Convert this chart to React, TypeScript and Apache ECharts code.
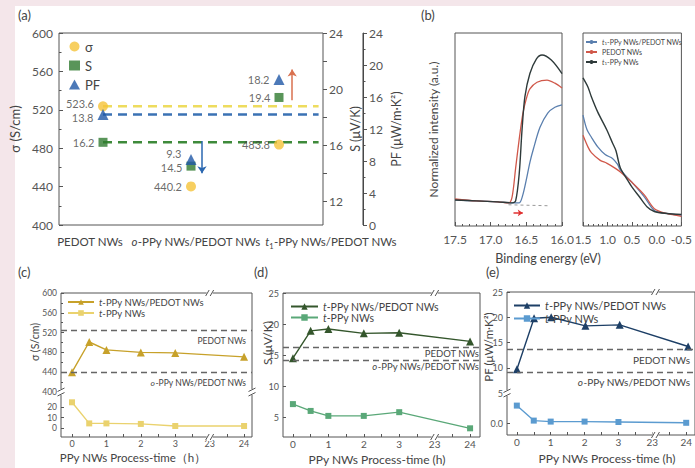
import React, { useEffect, useRef } from "react";
import * as echarts from "echarts";

const FONT = "Lato, 'Noto Sans', sans-serif";
const AX = "#555";
const TXT = "#444";

// ---------- panel (a) ----------
const aCategories = ["PEDOT NWs", "{i|o}-PPy NWs/PEDOT NWs", "{i|t}{s|1}-PPy NWs/PEDOT NWs"];
const aSigma = [523.6, 440.2, 483.8];
const aSigmaLabels = ["523.6", "440.2", "483.8"];
const aSeebeck = [16.2, 14.5, 19.4];
const aSeebeckLabels = ["16.2", "14.5", "19.4"];
const aPF = [13.8, 8.2, 18.2];
const aPFLabels = ["13.8", "9.3", "18.2"];
const aSTickLabels = [12, 16, 20, 24];
const aSTicks = [12, 14, 16, 18, 20, 22, 24];

// ---------- panel (b) ----------
const bLeftDark = [[17.5, 0.135], [17.2, 0.13], [16.9, 0.125], [16.7, 0.12], [16.65, 0.13], [16.6, 0.27], [16.56, 0.5], [16.52, 0.67], [16.45, 0.79], [16.36, 0.865], [16.28, 0.886], [16.15, 0.86], [16.0, 0.79]];
const bLeftRed = [[17.5, 0.14], [17.2, 0.13], [16.9, 0.125], [16.75, 0.12], [16.7, 0.15], [16.65, 0.3], [16.6, 0.45], [16.55, 0.58], [16.5, 0.66], [16.45, 0.71], [16.35, 0.745], [16.21, 0.756], [16.1, 0.74], [16.0, 0.715]];
const bLeftBlue = [[17.5, 0.135], [17.2, 0.13], [16.9, 0.125], [16.7, 0.12], [16.6, 0.12], [16.55, 0.16], [16.5, 0.24], [16.45, 0.33], [16.4, 0.4], [16.31, 0.51], [16.2, 0.585], [16.1, 0.615], [16.0, 0.627]];
const bRightDark = [[1.5, 0.767], [1.4, 0.72], [1.33, 0.67], [1.2, 0.59], [1.02, 0.5], [0.9, 0.43], [0.83, 0.39], [0.74, 0.3], [0.6, 0.24], [0.5, 0.2], [0.35, 0.15], [0.2, 0.1], [0.05, 0.075], [-0.2, 0.065], [-0.5, 0.06]];
const bRightBlue = [[1.5, 0.575], [1.42, 0.5], [1.33, 0.46], [1.2, 0.41], [1.05, 0.37], [0.9, 0.35], [0.8, 0.32], [0.74, 0.29], [0.5, 0.225], [0.25, 0.15], [0.05, 0.08], [-0.2, 0.065], [-0.5, 0.055]];
const bRightRed = [[1.5, 0.47], [1.4, 0.41], [1.33, 0.38], [1.15, 0.34], [1.02, 0.326], [0.85, 0.3], [0.74, 0.28], [0.5, 0.225], [0.25, 0.16], [0.05, 0.09], [-0.2, 0.065], [-0.5, 0.05]];
const bBaseline = [[16.75, 0.11], [16.2, 0.105]];
const bShift = [[16.68, 0.068], [16.55, 0.068]];

// ---------- panels (c)-(e) ----------
const hours = [0, 0.5, 1, 2, 3, 24];
const hourTickLabels = ["0", "1", "2", "3", "23", "24"];
const cComposite = [440, 501, 485, 480, 479, 471];
const cPPy = [25, 4.5, 4.5, 4, 2, 2];
const cRefs = [525, 440];
const dComposite = [14.5, 18.9, 19.2, 18.5, 18.6, 17.2];
const dPPy = [7.1, 6.0, 5.2, 5.2, 5.8, 3.2];
const dRefs = [16.3, 14.2];
const eComposite = [9.7, 19.8, 20.0, 18.3, 18.5, 14.2];
const ePPy = [0.087, 0.012, 0.007, 0.007, 0.005, 0.001];
const eRefs = [13.6, 9.1];
const refLabels = ["PEDOT NWs", "{i|o}-PPy NWs/PEDOT NWs"];

const LEGEND_TEXT: Record<string, string> = {
  "σ": "σ", S: "S", PF: "PF",
  bBlue: "{i|t}{s|1}-PPy NWs/PEDOT NWs", bRed: "PEDOT NWs", bDark: "{i|t}{s|1}-PPy NWs",
  c1: "{i|t}-PPy NWs/PEDOT NWs", c2: "{i|t}-PPy NWs",
  d1: "{i|t}-PPy NWs/PEDOT NWs", d2: "{i|t}-PPy NWs",
  e1: "{i|t}-PPy NWs/PEDOT NWs", e2: "{i|t}-PPy NWs",
};

const C = {
  yel: "#f5c338", yelDash: "#eedc5e", grn: "#2f7a30", grnDash: "#3e8a3a", blu: "#1f58a6", bluDash: "#3b72b4",
  arrowBlue: "#2a67b0", arrowRed: "#d9714f",
  bDark: "#2e3a3a", bRed: "#d0584a", bBlue: "#5a7fae",
  cDark: "#c7a12a", cLight: "#ead26e", dDark: "#34562c", dLight: "#5aa878", eDark: "#1d3f66", eLight: "#5b9bd0",
};

const G = {
  a: { left: 59, top: 33, width: 264, height: 192 },
  b1: { left: 455, top: 33, width: 107, height: 193 },
  b2: { left: 583, top: 33, width: 107, height: 193 },
  c: { left: 61, top: 293, width: 191, height: 144, split: 392, xmin: -0.32, xmax: 5.23 },
  d: { left: 283, top: 293, width: 197, height: 144, xmin: -0.28, xmax: 5.28 },
  e: { left: 507, top: 292, width: 190, height: 143, split: 393, xmin: -0.29, xmax: 5.2 },
};
const PF_OFFSET = 40;

function hourPos(h: number) {
  return h <= 3 ? h : 4 + (h - 23);
}
function pairs(xs: number[], ys: number[]) {
  return xs.map((h, i) => [hourPos(h), ys[i]]);
}
function xPix(g: { left: number; width: number; xmin: number; xmax: number }, v: number) {
  return g.left + ((v - g.xmin) / (g.xmax - g.xmin)) * g.width;
}

const frame = (g: any) => ({ left: g.left, top: g.top, width: g.width, height: g.height, show: true, borderColor: AX, borderWidth: 1, backgroundColor: "transparent" });

const halfTicks = [0, 0.5, 1, 1.5, 2, 2.5, 3, 3.5, 4, 4.5, 5];

function timeX(gridIndex: number, g: any, show: boolean, fontSize: number) {
  return {
    type: "value", gridIndex, min: g.xmin, max: g.xmax,
    axisLine: { show: false, onZero: false }, splitLine: { show: false },
    axisTick: show ? { show: true, inside: true, length: 3, customValues: halfTicks, lineStyle: { color: AX } } : { show: false },
    axisLabel: show ? { show: true, customValues: [0, 1, 2, 3, 4, 5], formatter: (v: number) => hourTickLabels[Math.round(v)], color: AX, fontSize, margin: 2, fontFamily: FONT } : { show: false },
  };
}
function yVal(gridIndex: number, o: any, fontSize: number) {
  return {
    type: "value", gridIndex, axisLine: { show: false, onZero: false }, splitLine: { show: false },
    axisTick: { show: true, inside: true, length: 3, lineStyle: { color: AX }, ...(o.ticks ? { customValues: o.ticks } : {}) },
    minorTick: o.minor ? { show: true, splitNumber: 2, length: 2, lineStyle: { color: AX } } : { show: false },
    axisLabel: { color: AX, fontSize, margin: 4, fontFamily: FONT, ...(o.labels ? { customValues: o.labels } : {}), ...(o.formatter ? { formatter: o.formatter } : {}) },
    min: o.min, max: o.max, ...(o.interval ? { interval: o.interval } : {}),
  };
}
function hidden(gridIndex: number, min = 0, max = 1) {
  return { type: "value", gridIndex, min, max, show: false, splitLine: { show: false } };
}

function breakH(x: number, y: number) {
  return {
    type: "group", x, y, z: 50, children: [
      { type: "rect", shape: { x: -3, y: -4, width: 6, height: 8 }, style: { fill: "#fff" }, z: 50 },
      { type: "line", shape: { x1: -4, y1: 3, x2: -0.5, y2: -3 }, style: { stroke: AX, lineWidth: 1 }, z: 51 },
      { type: "line", shape: { x1: 0.5, y1: 3, x2: 4, y2: -3 }, style: { stroke: AX, lineWidth: 1 }, z: 51 },
    ],
  };
}
function breakV(x: number, y: number) {
  return {
    type: "group", x, y, z: 50, children: [
      { type: "rect", shape: { x: -4, y: -3, width: 8, height: 6 }, style: { fill: "#fff" }, z: 50 },
      { type: "line", shape: { x1: -3.5, y1: -0.5, x2: 3.5, y2: -4 }, style: { stroke: AX, lineWidth: 1 }, z: 51 },
      { type: "line", shape: { x1: -3.5, y1: 4, x2: 3.5, y2: 0.5 }, style: { stroke: AX, lineWidth: 1 }, z: 51 },
    ],
  };
}

function txt(text: string, x: number, y: number, fontSize: number, opts: any = {}) {
  return {
    type: "text", x, y, z: 60, rotation: opts.rotation || 0,
    style: {
      text, fill: opts.fill || TXT, fontSize, fontFamily: FONT,
      textAlign: opts.align || "center", textVerticalAlign: "middle",
      rich: {
        i: { fontStyle: "italic", fontSize, fontFamily: FONT, fill: opts.fill || TXT },
        s: { fontSize: fontSize * 0.65, fontFamily: FONT, fill: opts.fill || TXT, verticalAlign: "bottom", padding: [0, 0, -3, 0] },
      },
    },
  };
}

function richFor(fs: number) {
  return {
    i: { fontStyle: "italic", fontSize: fs, fontFamily: FONT, color: TXT },
    s: { fontSize: fs * 0.65, fontFamily: FONT, color: TXT, verticalAlign: "bottom" },
  };
}

function legend(data: string[], left: number, top: number, fs: number, o: any = {}) {
  return {
    data, orient: "vertical", left, top, itemGap: o.gap ?? 2, itemWidth: o.w ?? 25, itemHeight: o.h ?? 8,
    padding: 0, selectedMode: false, formatter: (n: string) => LEGEND_TEXT[n] ?? n,
    textStyle: { fontSize: fs, color: TXT, fontFamily: FONT, lineHeight: o.lh ?? fs, padding: [0, 0, 0, 0], rich: richFor(fs) },
  };
}

function refMarkLine(refs: number[], fs: number, dist: number) {
  return {
    silent: true, symbol: ["none", "none"],
    lineStyle: { type: [6, 4], color: "#666", width: 1.4 },
    label: { show: true, position: "insideEndBottom", color: TXT, fontSize: fs, fontFamily: FONT, distance: dist, rich: richFor(fs) },
    data: refs.map((v, i) => ({ yAxis: v, label: { formatter: refLabels[i] } })),
  };
}

function buildOption() {
  const pfX = G.a.left + G.a.width + PF_OFFSET;
  const graphic: any[] = [
    { type: "rect", shape: { x: 15, y: 6, width: 690, height: 470 }, style: { fill: "#ffffff" }, z: -100 },
    { type: "rect", shape: { x: pfX - 0.5, y: G.a.top, width: 1.2, height: G.a.height }, style: { fill: "#444" }, z: 40 },
    txt("(a)", 18, 15, 13, { align: "left" }),
    txt("(b)", 421, 15, 13, { align: "left" }),
    txt("(c)", 18, 272, 13, { align: "left" }),
    txt("(d)", 254, 272, 13, { align: "left" }),
    txt("(e)", 486, 272, 13, { align: "left" }),
    txt(aCategories[0], 90, 241, 11.5),
    txt(aCategories[1], 196, 241, 11.5),
    txt(aCategories[2], 331, 241, 11.5),
    txt("Binding energy (eV)", 548, 258, 12.5),
    txt("σ (S/cm)", 35, 342, 10.5, { rotation: Math.PI / 2 }),
    txt("S (μV/K)", 267, 343, 12, { rotation: Math.PI / 2 }),
    txt("PF (μW/m·K²)", 488, 347, 11.5, { rotation: Math.PI / 2 }),
    txt("PPy NWs Process-time（h）", 133, 457, 11.5),
    txt("PPy NWs Process-time (h)", 377, 459, 12),
    txt("PPy NWs Process-time (h)", 607, 458, 12),
    // axis breaks
    breakH(xPix(G.c, 4), G.c.top), breakH(xPix(G.c, 4), G.c.top + G.c.height),
    breakV(G.c.left, G.c.split), breakV(G.c.left + G.c.width, G.c.split),
    breakH(xPix(G.d, 4), G.d.top), breakH(xPix(G.d, 4), G.d.top + G.d.height),
    breakH(xPix(G.e, 4), G.e.top), breakH(xPix(G.e, 4), G.e.top + G.e.height),
    breakV(G.e.left, G.e.split),
  ];

  const grid = [
    frame(G.a), frame(G.b1), frame(G.b2),
    frame(G.c),
    { left: G.c.left, top: G.c.top, width: G.c.width, height: G.c.split - G.c.top },
    { left: G.c.left, top: G.c.split, width: G.c.width, height: G.c.top + G.c.height - G.c.split },
    frame(G.d),
    frame(G.e),
    { left: G.e.left, top: G.e.top, width: G.e.width, height: G.e.split - G.e.top },
    { left: G.e.left, top: G.e.split, width: G.e.width, height: G.e.top + G.e.height - G.e.split },
  ];

  const xAxis = [
    { type: "value", gridIndex: 0, min: -0.5, max: 2.5, show: false, splitLine: { show: false } },
    {
      type: "value", gridIndex: 1, min: 16, max: 17.5, interval: 0.5, inverse: true,
      axisLine: { show: false, onZero: false }, splitLine: { show: false },
      axisTick: { inside: true, length: 4, lineStyle: { color: AX } },
      minorTick: { show: true, splitNumber: 5, length: 2, lineStyle: { color: AX } },
      axisLabel: { color: AX, fontSize: 12, margin: 7, fontFamily: FONT, formatter: (v: number) => v.toFixed(1) },
    },
    {
      type: "value", gridIndex: 2, min: -0.5, max: 1.5, interval: 0.5, inverse: true,
      axisLine: { show: false, onZero: false }, splitLine: { show: false },
      axisTick: { inside: true, length: 4, lineStyle: { color: AX } },
      minorTick: { show: true, splitNumber: 5, length: 2, lineStyle: { color: AX } },
      axisLabel: { color: AX, fontSize: 12, margin: 7, fontFamily: FONT, formatter: (v: number) => v.toFixed(1) },
    },
    hidden(3), timeX(4, G.c, false, 9), timeX(5, G.c, true, 9),
    timeX(6, G.d, true, 10),
    hidden(7), timeX(8, G.e, false, 10), timeX(9, G.e, true, 10),
  ];

  const yAxis = [
    {
      type: "value", gridIndex: 0, position: "left", min: 400, max: 600, interval: 40,
      axisLine: { show: false, onZero: false }, splitLine: { show: false },
      axisTick: { inside: true, length: 4, lineStyle: { color: AX } },
      minorTick: { show: true, splitNumber: 2, length: 2.5, lineStyle: { color: AX } },
      axisLabel: { color: AX, fontSize: 12, margin: 6, fontFamily: FONT },
      name: "σ (S/cm)", nameLocation: "middle", nameGap: 38, nameRotate: 90,
      nameTextStyle: { fontSize: 13, color: TXT, fontFamily: FONT },
    },
    {
      type: "value", gridIndex: 0, position: "right", min: 10.3, max: 24,
      axisLine: { show: false, onZero: false }, splitLine: { show: false },
      axisTick: { inside: false, length: 4, customValues: aSTicks, lineStyle: { color: AX } },
      axisLabel: { customValues: aSTickLabels, color: AX, fontSize: 12, margin: 6, fontFamily: FONT },
      name: "S (μV/K)", nameLocation: "middle", nameGap: 26, nameRotate: 90,
      nameTextStyle: { fontSize: 12.5, color: TXT, fontFamily: FONT },
    },
    {
      type: "value", gridIndex: 0, position: "right", offset: PF_OFFSET, min: 0, max: 24, interval: 4,
      axisLine: { show: true, onZero: false, lineStyle: { color: AX, width: 1 } }, splitLine: { show: false },
      axisTick: { show: true, inside: false, length: 4, lineStyle: { color: AX } },
      minorTick: { show: true, splitNumber: 2, length: 2.5, lineStyle: { color: AX } },
      axisLabel: { color: AX, fontSize: 12, margin: 6, fontFamily: FONT },
      name: "PF (μW/m·K²)", nameLocation: "middle", nameGap: 27, nameRotate: 90,
      nameTextStyle: { fontSize: 12.5, color: TXT, fontFamily: FONT },
    },
    {
      type: "value", gridIndex: 1, min: 0, max: 1, axisLine: { show: false, onZero: false }, axisTick: { show: false },
      axisLabel: { show: false }, splitLine: { show: false },
      name: "Normalized intensity (a.u.)", nameLocation: "middle", nameGap: 16, nameRotate: 90,
      nameTextStyle: { fontSize: 12, color: TXT, fontFamily: FONT },
    },
    hidden(2),
    hidden(3),
    yVal(4, { min: 400, max: 600, interval: 40, minor: true }, 8.5),
    yVal(5, { min: -8.7, max: 35, ticks: [0, 10, 20], labels: [0, 10, 20] }, 8.5),
    yVal(6, { min: 1.8, max: 25, ticks: [5, 10, 15, 20, 25], labels: [5, 10, 15, 20, 25] }, 9),
    hidden(7),
    yVal(8, { min: 5, max: 25, interval: 5 }, 9),
    yVal(9, { min: -0.06, max: 0.15, ticks: [0], labels: [0], formatter: () => "0.0" }, 9),
  ];

  const lbl = (arr: string[]) => ({
    show: true, position: "left", distance: 4, color: TXT, fontSize: 11, fontFamily: FONT,
    formatter: (p: any) => arr[p.dataIndex],
  });
  const idx = [0, 1, 2];
  const refEnd = 2.45;
  const sigOffsets = [[0, -3], [0, 0], [0, 0]];
  const sOffsets = [[0, 0], [0, 1], [0, 0]];
  const pfOffsets = [[0, 3], [0, -6], [0, 0]];

  const series: any[] = [
    // panel (a) dashed reference lines
    { type: "line", name: "aSigRef", xAxisIndex: 0, yAxisIndex: 0, data: [[0, aSigma[0]], [refEnd, aSigma[0]]], symbol: "none", lineStyle: { color: C.yelDash, width: 2.5, type: [9, 6] }, z: 1, silent: true },
    { type: "line", name: "aPFRef", xAxisIndex: 0, yAxisIndex: 2, data: [[0, aPF[0]], [refEnd, aPF[0]]], symbol: "none", lineStyle: { color: C.bluDash, width: 2.5, type: [9, 6] }, z: 1, silent: true },
    {
      type: "line", name: "aSRef", xAxisIndex: 0, yAxisIndex: 1, data: [[0, aSeebeck[0]], [refEnd, aSeebeck[0]]], symbol: "none", lineStyle: { color: C.grnDash, width: 2.5, type: [9, 6] }, z: 1, silent: true,
      markLine: {
        silent: true, symbol: ["none", "arrow"], symbolSize: 7, label: { show: false },
        data: [
          [{ coord: [1.125, 16.3], lineStyle: { color: C.arrowBlue, width: 1.5, type: "solid" } }, { coord: [1.125, 14.0] }],
          [{ coord: [2.15, 19.2], lineStyle: { color: C.arrowRed, width: 1.5, type: "solid" } }, { coord: [2.15, 21.4] }],
        ],
      },
    },
    { type: "scatter", name: "σ", xAxisIndex: 0, yAxisIndex: 0, data: idx.map((i) => ({ value: [i, aSigma[i]], label: { offset: sigOffsets[i] } })), symbol: "circle", symbolSize: 10, itemStyle: { color: C.yel }, label: lbl(aSigmaLabels), z: 3 },
    { type: "scatter", name: "S", xAxisIndex: 0, yAxisIndex: 1, data: idx.map((i) => ({ value: [i, aSeebeck[i]], label: { offset: sOffsets[i] } })), symbol: "rect", symbolSize: 9, itemStyle: { color: C.grn }, label: lbl(aSeebeckLabels), z: 3 },
    { type: "scatter", name: "PF", xAxisIndex: 0, yAxisIndex: 2, data: idx.map((i) => ({ value: [i, aPF[i]], label: { offset: pfOffsets[i] } })), symbol: "triangle", symbolSize: 11, itemStyle: { color: C.blu }, label: lbl(aPFLabels), z: 3 },

    // panel (b)
    { type: "line", name: "bBlueL", xAxisIndex: 1, yAxisIndex: 3, data: bLeftBlue, symbol: "none", smooth: 0.3, lineStyle: { color: C.bBlue, width: 1.3 } },
    { type: "line", name: "bRedL", xAxisIndex: 1, yAxisIndex: 3, data: bLeftRed, symbol: "none", smooth: 0.3, lineStyle: { color: C.bRed, width: 1.3 } },
    { type: "line", name: "bDarkL", xAxisIndex: 1, yAxisIndex: 3, data: bLeftDark, symbol: "none", smooth: 0.3, lineStyle: { color: C.bDark, width: 1.4 } },
    {
      type: "line", name: "bBase", xAxisIndex: 1, yAxisIndex: 3, data: bBaseline, symbol: "none", lineStyle: { color: "#999", width: 1, type: [3, 3] }, silent: true,
      markLine: {
        silent: true, symbol: ["none", "arrow"], symbolSize: 5, label: { show: false },
        data: [[{ coord: bShift[0], lineStyle: { color: "#e03030", width: 1.5, type: "solid" } }, { coord: bShift[1] }]],
      },
    },
    { type: "line", name: "bBlue", xAxisIndex: 2, yAxisIndex: 4, data: bRightBlue, symbol: "none", smooth: 0.3, lineStyle: { color: C.bBlue, width: 1.3 }, itemStyle: { color: C.bBlue } },
    { type: "line", name: "bRed", xAxisIndex: 2, yAxisIndex: 4, data: bRightRed, symbol: "none", smooth: 0.3, lineStyle: { color: C.bRed, width: 1.3 }, itemStyle: { color: C.bRed } },
    { type: "line", name: "bDark", xAxisIndex: 2, yAxisIndex: 4, data: bRightDark, symbol: "none", smooth: 0.3, lineStyle: { color: C.bDark, width: 1.4 }, itemStyle: { color: C.bDark } },

    // panel (c)
    { type: "line", name: "c1", xAxisIndex: 4, yAxisIndex: 6, data: pairs(hours, cComposite), symbol: "triangle", symbolSize: 8, lineStyle: { color: C.cDark, width: 1.4 }, itemStyle: { color: C.cDark }, markLine: refMarkLine(cRefs, 8.5, 6) },
    { type: "line", name: "c2", xAxisIndex: 5, yAxisIndex: 7, data: pairs(hours, cPPy), symbol: "rect", symbolSize: 6, lineStyle: { color: C.cLight, width: 1.4 }, itemStyle: { color: C.cLight } },
    // panel (d)
    { type: "line", name: "d1", xAxisIndex: 6, yAxisIndex: 8, data: pairs(hours, dComposite), symbol: "triangle", symbolSize: 8, lineStyle: { color: C.dDark, width: 1.4 }, itemStyle: { color: C.dDark }, markLine: refMarkLine(dRefs, 9.5, 1) },
    { type: "line", name: "d2", xAxisIndex: 6, yAxisIndex: 8, data: pairs(hours, dPPy), symbol: "rect", symbolSize: 6, lineStyle: { color: C.dLight, width: 1.4 }, itemStyle: { color: C.dLight } },
    // panel (e)
    { type: "line", name: "e1", xAxisIndex: 8, yAxisIndex: 10, data: pairs(hours, eComposite), symbol: "triangle", symbolSize: 8, lineStyle: { color: C.eDark, width: 1.4 }, itemStyle: { color: C.eDark }, markLine: refMarkLine(eRefs, 10, 5) },
    { type: "line", name: "e2", xAxisIndex: 9, yAxisIndex: 11, data: pairs(hours, ePPy), symbol: "rect", symbolSize: 6, lineStyle: { color: C.eLight, width: 1.4 }, itemStyle: { color: C.eLight } },
  ];

  return {
    animation: false,
    backgroundColor: "#f4e6ea",
    textStyle: { fontFamily: FONT },
    grid, xAxis, yAxis, series, graphic,
    legend: [
      legend(["σ", "S", "PF"], 69, 40, 13, { w: 11, h: 10, gap: 6, lh: 13 }),
      legend(["bBlue", "bRed", "bDark"], 585, 38, 7, { w: 11, h: 5, gap: 2, lh: 8 }),
      legend(["c1", "c2"], 67, 297, 9.5, { w: 26, h: 7, gap: 1, lh: 9.5 }),
      legend(["d1", "d2"], 290, 301, 10.5, { w: 27, h: 8, gap: 0, lh: 10.5 }),
      legend(["e1", "e2"], 513, 300, 11, { w: 26, h: 8, gap: 2, lh: 11 }),
    ],
  };
}

export default function App() {
  const ref = useRef<HTMLDivElement>(null);
  useEffect(() => {
    const chart = echarts.init(ref.current!, null, { renderer: "svg", width: 695, height: 468 });
    chart.setOption(buildOption() as any);
    return () => chart.dispose();
  }, []);
  return <div ref={ref} style={{ position: "absolute", left: 0, top: 0, width: 695, height: 468 }} />;
}
